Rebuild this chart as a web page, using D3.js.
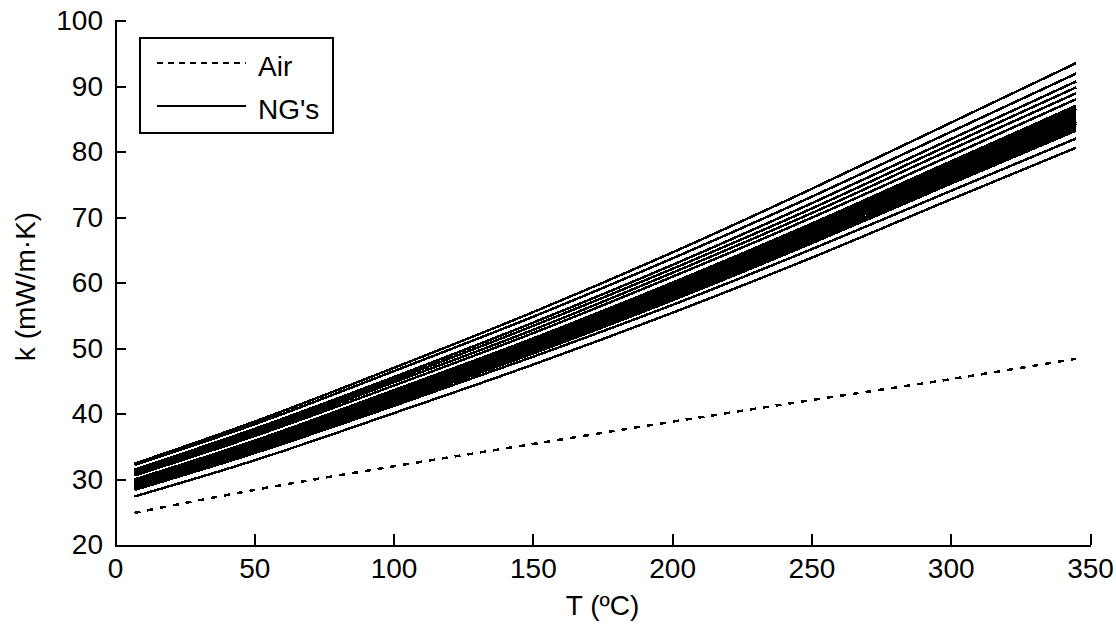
<!DOCTYPE html>
<html>
<head>
<meta charset="utf-8">
<script src="https://cdnjs.cloudflare.com/ajax/libs/d3/7.8.5/d3.min.js"></script>
<style>
  body { margin: 0; background: #fff; }
  text { font-family: "Liberation Sans", Arial, sans-serif; fill: #000; }
</style>
</head>
<body>
<svg id="chart"></svg>
<script>
const temps = [7, 50, 100, 150, 200, 250, 300, 345];

// Air thermal conductivity (mW/m·K)
const air = [24.9, 28.4, 32.0, 35.4, 38.8, 42.1, 45.3, 48.4];

// Natural gas mixtures, one row per curve (mW/m·K)
const ngSeries = [
    [32.4, 38.8, 47.0, 55.5, 64.6, 74.3, 84.4, 93.5],
    [32.2, 38.4, 46.5, 54.8, 63.7, 73.1, 83.0, 91.9],
    [31.5, 37.7, 45.6, 53.9, 62.7, 72.1, 81.9, 90.7],
    [31.2, 37.3, 45.2, 53.4, 62.1, 71.3, 81.1, 89.8],
    [30.9, 36.9, 44.8, 52.8, 61.5, 70.6, 80.3, 88.9],
    [30.6, 36.6, 44.3, 52.3, 60.9, 69.9, 79.4, 88.0],
    [30.0, 35.9, 43.6, 51.5, 60.0, 69.0, 78.5, 87.0],
    [29.9, 35.7, 43.4, 51.3, 59.8, 68.7, 78.1, 86.6],
    [29.7, 35.6, 43.2, 51.1, 59.5, 68.4, 77.8, 86.2],
    [29.6, 35.4, 43.0, 50.8, 59.2, 68.1, 77.4, 85.8],
    [29.4, 35.2, 42.8, 50.6, 58.9, 67.8, 77.1, 85.4],
    [29.3, 35.0, 42.6, 50.3, 58.6, 67.4, 76.7, 85.0],
    [29.1, 34.9, 42.4, 50.1, 58.3, 67.1, 76.3, 84.6],
    [29.0, 34.7, 42.2, 49.9, 58.1, 66.9, 76.1, 84.3],
    [28.8, 34.5, 42.0, 49.6, 57.8, 66.5, 75.7, 83.9],
    [28.7, 34.4, 41.8, 49.4, 57.6, 66.3, 75.4, 83.6],
    [28.5, 34.2, 41.6, 49.2, 57.3, 66.0, 75.1, 83.2],
    [28.4, 34.0, 41.2, 48.7, 56.6, 65.1, 74.0, 82.0],
    [27.4, 32.9, 40.1, 47.5, 55.4, 63.8, 72.7, 80.6]
];

const xTicks = [0, 50, 100, 150, 200, 250, 300, 350];
const yTicks = [20, 30, 40, 50, 60, 70, 80, 90, 100];

// Dimensions and margins
const margin = { top: 20.5, right: 26, bottom: 81, left: 115 };
const width = 1116 - margin.left - margin.right;
const height = 626 - margin.top - margin.bottom;

const svg = d3.select("#chart")
    .attr("width", 1116)
    .attr("height", 626)
    .append("g")
    .attr("transform", `translate(${margin.left},${margin.top})`);

const x = d3.scaleLinear().domain([0, 350]).range([0, width]);
const y = d3.scaleLinear().domain([20, 100]).range([height, 0]);

// Axes, ticks pointing inward
const xAxis = svg.append("g")
    .attr("transform", `translate(0,${height})`)
    .call(d3.axisBottom(x).tickValues(xTicks).tickSizeInner(-11).tickSizeOuter(0).tickPadding(13));
const yAxis = svg.append("g")
    .call(d3.axisLeft(y).tickValues(yTicks).tickSizeInner(-11).tickSizeOuter(0).tickPadding(12));

[xAxis, yAxis].forEach(g => {
    g.selectAll("path, line")
        .attr("stroke", "#000")
        .attr("stroke-width", 2)
        .attr("shape-rendering", "crispEdges");
    g.selectAll("text")
        .style("font-size", "28px")
        .style("font-family", "'Liberation Sans', Arial, sans-serif")
        .attr("fill", "#000");
});

// Axis labels
svg.append("text")
    .attr("x", width / 2)
    .attr("y", height + 70)
    .attr("text-anchor", "middle")
    .style("font-size", "28px")
    .text("T (ºC)");

svg.append("text")
    .attr("transform", "rotate(-90)")
    .attr("x", -(286.5 - margin.top))
    .attr("y", 35 - margin.left)
    .attr("text-anchor", "middle")
    .style("font-size", "28px")
    .text("k (mW/m·K)");

const line = d3.line()
    .x((d, i) => x(temps[i]))
    .y(d => y(d))
    .curve(d3.curveMonotoneX);

// NG curves
svg.append("g")
    .selectAll(".ng")
    .data(ngSeries)
    .enter()
    .append("path")
    .attr("class", "ng")
    .attr("d", d => line(d))
    .attr("fill", "none")
    .attr("stroke", "#000")
    .attr("stroke-width", 2.5)
    .attr("shape-rendering", "crispEdges");

// Air curve
svg.append("path")
    .attr("d", line(air))
    .attr("fill", "none")
    .attr("stroke", "#000")
    .attr("stroke-width", 2.5)
    .attr("stroke-dasharray", "6,7")
    .attr("shape-rendering", "crispEdges");

// Legend
const legend = svg.append("g")
    .attr("transform", `translate(${140 - margin.left},${38 - margin.top})`);

legend.append("rect")
    .attr("width", 193)
    .attr("height", 95)
    .attr("fill", "#fff")
    .attr("stroke", "#000")
    .attr("stroke-width", 2)
    .attr("shape-rendering", "crispEdges");

const legendItems = [
    { label: "Air", dash: "6,5", y: 25 },
    { label: "NG's", dash: null, y: 68 }
];

legendItems.forEach(item => {
    legend.append("line")
        .attr("x1", 17)
        .attr("x2", 106)
        .attr("y1", item.y)
        .attr("y2", item.y)
        .attr("stroke", "#000")
        .attr("stroke-width", 2)
        .attr("stroke-dasharray", item.dash)
        .attr("shape-rendering", "crispEdges");
    legend.append("text")
        .attr("x", 118)
        .attr("y", item.y + 13)
        .style("font-size", "28px")
        .text(item.label);
});
</script>
</body>
</html>
